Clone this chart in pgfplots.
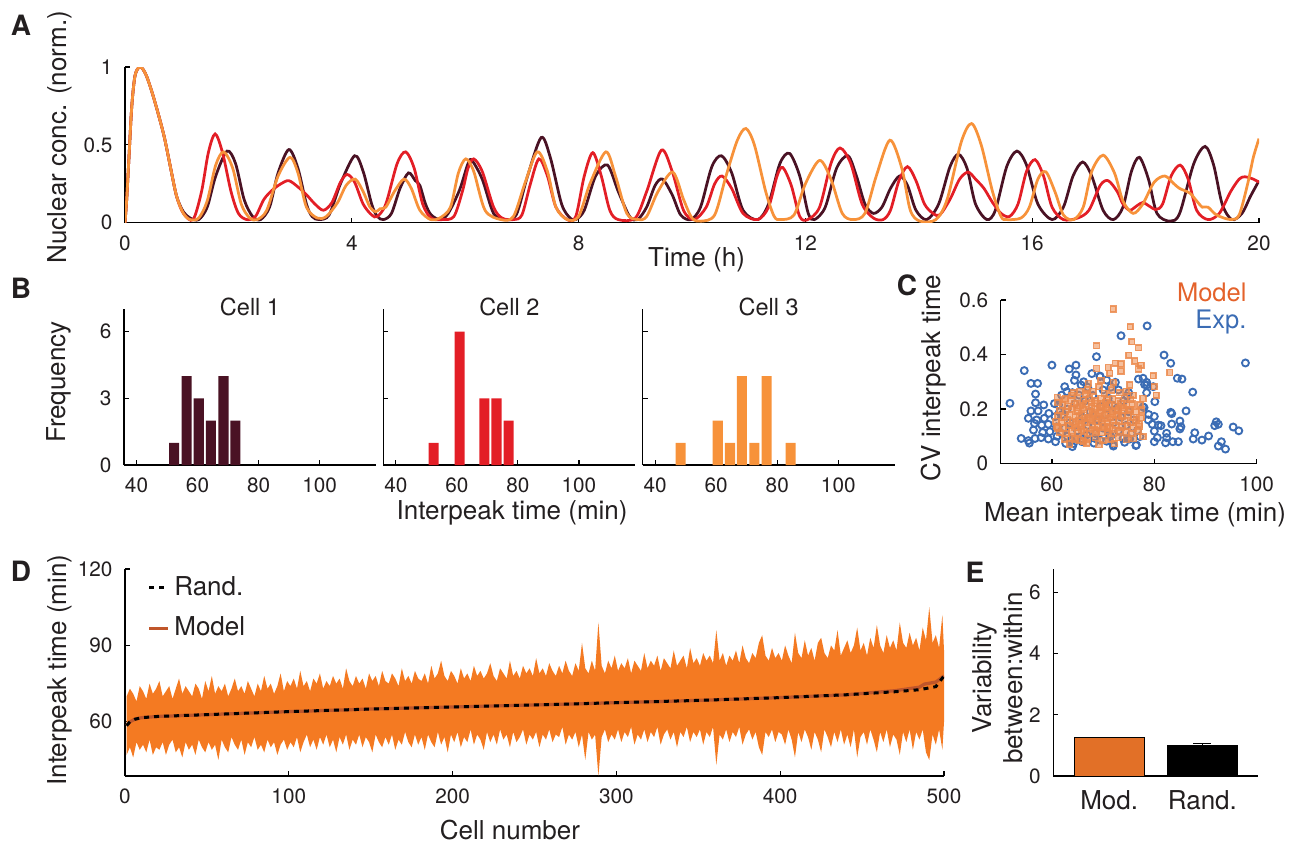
\documentclass[border=0pt]{standalone}
\usepackage{fontspec}
\setmainfont{TeX Gyre Heros}
\usepackage{pgfplots}
\usepackage{pgfplotstable}
\pgfplotsset{compat=1.18}
\usepgfplotslibrary{fillbetween}

\definecolor{txt}{HTML}{231F20}
\definecolor{cDark}{HTML}{4A1224}
\definecolor{cRed}{HTML}{E31E26}
\definecolor{cOra}{HTML}{F7923A}
\definecolor{cBlue}{HTML}{3B6CB4}
\definecolor{cMod}{HTML}{EC8A4C}
\definecolor{cModTxt}{HTML}{E4622B}
\definecolor{cBand}{HTML}{F47A22}
\definecolor{cBrown}{HTML}{C0562A}
\definecolor{cBar}{HTML}{E27027}

\newcommand{\tickfont}{\fontsize{8.3}{9}\selectfont}
\newcommand{\labfont}{\fontsize{10.4}{12.4}\selectfont}

% D: envelope of interpeak times per cell (upper / lower)
\pgfplotstableread{
c up lo
1 70 47
3 73 50
5 71 46
7 68 52
9 74 49
11 72 51
13 69 48
15 75 53
17 71 47
19 73 50
21 76 49
23 70 52
25 72 47
27 74 51
29 69 53
31 73 48
33 77 50
35 71 46
37 74 52
39 72 49
41 70 51
43 75 47
45 73 53
47 69 50
49 76 48
51 72 52
53 78 49
55 71 51
57 74 45
59 72 53
61 75 50
63 70 48
65 73 54
67 77 51
69 72 49
71 74 53
73 71 47
75 76 52
77 73 50
79 70 54
81 75 49
83 72 51
85 78 48
87 73 53
89 75 50
91 71 52
93 74 47
95 79 51
97 72 53
99 76 49
101 74 52
103 77 50
105 73 54
107 80 48
109 74 52
111 76 55
113 72 50
115 77 53
117 75 49
119 79 54
121 73 51
123 76 55
125 74 50
127 78 53
129 75 48
131 77 54
133 73 51
135 81 55
137 76 49
139 74 53
141 78 51
143 75 55
145 77 50
147 73 54
149 79 52
151 76 48
153 78 55
155 74 52
157 80 50
159 76 54
161 75 51
163 79 55
165 77 49
167 74 53
169 81 51
171 76 56
173 78 52
175 75 50
177 80 55
179 77 51
181 76 54
183 79 49
185 75 55
187 82 52
189 77 50
191 79 56
193 84 51
195 78 54
197 76 48
199 80 55
201 78 52
203 75 56
205 81 50
207 77 54
209 79 52
211 76 57
213 82 51
215 78 55
217 80 53
219 77 49
221 79 56
223 83 52
225 78 55
227 76 51
229 81 57
231 79 53
233 77 55
235 84 50
237 78 56
239 80 52
241 77 54
243 82 57
245 79 51
247 81 55
249 78 53
251 85 56
253 79 50
255 81 55
257 78 53
259 83 57
261 80 52
263 78 55
265 82 54
267 79 58
269 84 51
271 80 55
273 78 53
275 83 56
277 80 50
279 91 55
281 81 45
283 79 56
285 84 53
287 80 55
289 99 38.7
291 82 54
293 79 57
295 84 52
297 81 55
299 86 53
301 80 57
303 83 52
305 81 56
307 85 54
309 79 58
311 84 51
313 82 55
315 80 53
317 87 57
319 81 52
321 84 56
323 82 54
325 86 58
327 80 51
329 85 55
331 83 57
333 81 53
335 88 56
337 82 50
339 84 56
341 86 54
343 81 58
345 89 52
347 83 56
349 85 54
351 82 57
353 87 51
355 84 56
357 86 54
359 83 58
361 96 43
363 84 55
365 87 53
367 82 57
369 86 52
371 84 56
373 88 54
375 83 58
377 90 51
379 85 55
381 83 57
383 87 53
385 85 56
387 91 50
389 94 47
391 86 56
393 84 54
395 89 57
397 85 52
399 87 56
401 84 55
403 90 51
405 86 57
407 83 53
409 95 46
411 87 56
413 85 52
415 92 57
417 86 54
419 89 49
421 84 56
423 91 53
425 93 48
427 87 57
429 85 54
431 90 50
433 88 56
435 96 52
437 86 57
439 89 51
441 92 55
443 87 50
445 90 57
447 97 46
449 88 54
451 91 56
453 86 51
455 93 57
457 89 53
459 98 48
461 90 56
463 87 52
465 94 57
467 89 50
469 92 55
471 88 53
473 99 47
475 91 56
477 89 52
479 95 57
481 90 49
483 93 56
485 88 53
487 97 57
489 92 48
491 105 45
493 91 55
495 94 51
497 89 57
499 102 49
500 88 60
}\bandD

\pgfplotsset{
  fig/.style={
    scale only axis, axis lines*=left,
    axis line style={line width=0.5pt, black},
    tick align=inside, major tick length=2pt,
    tick style={line width=0.5pt, black},
    ticklabel style={font=\tickfont, text=txt},
    xticklabel style={yshift=-1.6pt},
    yticklabel style={xshift=-1.5pt},
    label style={font=\labfont, text=txt, anchor=center},
    /pgf/number format/assume math mode=true,
  },
  hist/.style={fig, width=100.8pt, height=62.28pt,
    xmin=35.9, xmax=118.5, ymin=0, ymax=7,
    xtick={40,60,80,100}, ytick={0,3,6},
    title style={at={(axis description cs:0.5,0.918)}, anchor=center,
      font=\fontsize{9.4}{11}\selectfont, text=txt}},
}

\begin{document}
\begin{tikzpicture}
\path (0pt,0pt) rectangle (520.8pt,-338pt);

% ---------- A: time courses
\begin{axis}[fig, at={(50pt,-89.08pt)}, anchor=south west,
  width=453.6pt, height=62.28pt,
  xmin=0, xmax=20, ymin=0, ymax=1,
  xtick={0,4,...,20}, ytick={0,0.5,1},
  xlabel={Time (h)}, ylabel={Nuclear conc. (norm.)},
  xlabel style={at={(axis description cs:0.504,-0.24)}},
  ylabel style={at={(axis description cs:-0.0573,0.55)}}]
\addplot[cDark, line width=1.1pt, smooth] coordinates {
 (0,0)(0.03,0.15)(0.07,0.42)(0.12,0.75)(0.18,0.95)(0.27,1)(0.37,0.95)(0.5,0.81)
 (0.68,0.57)(0.8,0.36)(0.91,0.17)(1.03,0.07)(1.15,0.03)(1.3,0.02)(1.45,0.1)(1.6,0.3)
 (1.8,0.46)(1.95,0.38)(2.1,0.15)(2.25,0.04)(2.39,0.02)(2.55,0.1)(2.7,0.32)(2.89,0.47)
 (3.05,0.35)(3.2,0.12)(3.3,0.04)(3.42,0.02)(3.6,0.05)(3.8,0.25)(4.05,0.43)(4.2,0.33)
 (4.35,0.12)(4.45,0.04)(4.56,0.02)(4.7,0.06)(4.85,0.22)(5.0,0.32)(5.12,0.27)(5.2,0.24)
 (5.3,0.12)(5.4,0.05)(5.56,0.02)(5.7,0.06)(5.9,0.21)(6.05,0.38)(6.12,0.40)(6.3,0.28)
 (6.5,0.06)(6.7,0.02)(6.9,0.05)(7.1,0.3)(7.34,0.547)(7.5,0.42)(7.7,0.12)(7.85,0.03)
 (7.95,0.02)(8.1,0.08)(8.3,0.3)(8.51,0.37)(8.7,0.2)(8.9,0.04)(9.04,0.02)(9.2,0.1)
 (9.35,0.24)(9.48,0.28)(9.65,0.18)(9.8,0.05)(9.98,0.02)(10.15,0.1)(10.35,0.36)(10.52,0.43)
 (10.7,0.32)(10.9,0.08)(11.16,0.02)(11.35,0.12)(11.55,0.38)(11.72,0.445)(11.9,0.3)(12.05,0.06)
 (12.16,0.02)(12.35,0.1)(12.55,0.35)(12.75,0.43)(12.9,0.3)(13.05,0.12)(13.2,0.06)(13.35,0.1)
 (13.5,0.22)(13.66,0.30)(13.8,0.24)(13.95,0.08)(14.14,0.02)(14.35,0.12)(14.55,0.36)(14.7,0.44)
 (14.85,0.35)(15.0,0.12)(15.2,0.02)(15.35,0.08)(15.55,0.36)(15.73,0.46)(15.9,0.37)(16.1,0.12)
 (16.35,0.02)(16.55,0.1)(16.72,0.3)(16.89,0.39)(17.05,0.3)(17.25,0.08)(17.43,0.02)(17.6,0.1)
 (17.75,0.33)(17.89,0.42)(18.05,0.28)(18.2,0.06)(18.43,0.01)(18.6,0.06)(18.85,0.38)(19.05,0.49)
 (19.2,0.37)(19.35,0.12)(19.52,0.02)(19.7,0.06)(19.85,0.17)(20,0.27)};
\addplot[cRed, line width=1.1pt, smooth] coordinates {
 (0,0)(0.03,0.15)(0.07,0.42)(0.12,0.75)(0.18,0.95)(0.27,1)(0.37,0.95)(0.5,0.81)
 (0.68,0.57)(0.8,0.36)(0.91,0.17)(1.03,0.06)(1.2,0.02)(1.35,0.2)(1.47,0.45)(1.59,0.57)
 (1.72,0.45)(1.87,0.2)(2.0,0.06)(2.15,0.02)(2.3,0.04)(2.45,0.15)(2.6,0.21)(2.75,0.25)
 (2.89,0.27)(3.05,0.23)(3.2,0.18)(3.35,0.12)(3.5,0.08)(3.65,0.13)(3.8,0.26)(3.92,0.31)
 (4.05,0.26)(4.2,0.12)(4.35,0.05)(4.45,0.04)(4.6,0.12)(4.8,0.38)(4.95,0.455)(5.1,0.35)
 (5.25,0.12)(5.4,0.03)(5.6,0.02)(5.8,0.04)(5.95,0.2)(6.05,0.35)(6.15,0.41)(6.3,0.33)
 (6.5,0.1)(6.65,0.03)(6.85,0.02)(7.0,0.05)(7.15,0.25)(7.3,0.41)(7.45,0.3)(7.6,0.1)
 (7.8,0.02)(7.95,0.04)(8.1,0.3)(8.25,0.45)(8.4,0.3)(8.55,0.08)(8.7,0.02)(9.0,0.03)
 (9.2,0.2)(9.46,0.466)(9.65,0.33)(9.85,0.08)(10.04,0.02)(10.25,0.1)(10.4,0.25)(10.53,0.30)
 (10.7,0.22)(10.9,0.06)(11.16,0.02)(11.35,0.1)(11.5,0.3)(11.6,0.355)(11.75,0.24)(11.9,0.04)
 (12.04,0.02)(12.25,0.1)(12.45,0.38)(12.61,0.48)(12.8,0.38)(13.0,0.12)(13.2,0.03)(13.37,0.02)
 (13.5,0.08)(13.65,0.27)(13.8,0.36)(13.95,0.27)(14.1,0.12)(14.25,0.06)(14.37,0.05)(14.55,0.15)
 (14.72,0.28)(14.87,0.325)(15.0,0.28)(15.15,0.22)(15.3,0.13)(15.45,0.06)(15.6,0.04)(15.75,0.12)
 (15.9,0.33)(16.05,0.405)(16.2,0.3)(16.35,0.1)(16.55,0.02)(16.8,0.03)(17.0,0.08)(17.2,0.24)
 (17.34,0.27)(17.5,0.2)(17.6,0.12)(17.72,0.08)(17.85,0.11)(17.95,0.13)(18.05,0.11)(18.18,0.085)
 (18.3,0.12)(18.45,0.3)(18.61,0.37)(18.75,0.28)(18.9,0.08)(19.1,0.02)(19.3,0.06)(19.5,0.2)
 (19.65,0.28)(19.75,0.295)(19.9,0.28)(20,0.26)};
\addplot[cOra, line width=1.1pt, smooth] coordinates {
 (0,0)(0.03,0.15)(0.07,0.42)(0.12,0.75)(0.18,0.95)(0.27,1)(0.37,0.95)(0.5,0.81)
 (0.68,0.57)(0.8,0.36)(0.91,0.17)(1.03,0.06)(1.15,0.02)(1.3,0.03)(1.45,0.14)(1.6,0.37)
 (1.74,0.455)(1.9,0.35)(2.05,0.12)(2.2,0.03)(2.33,0.02)(2.5,0.08)(2.7,0.3)(2.91,0.42)
 (3.05,0.32)(3.2,0.1)(3.39,0.03)(3.55,0.04)(3.75,0.13)(3.9,0.24)(4.06,0.28)(4.2,0.2)
 (4.32,0.1)(4.42,0.07)(4.5,0.09)(4.6,0.1)(4.75,0.2)(4.92,0.28)(5.05,0.22)(5.2,0.08)
 (5.39,0.02)(5.55,0.03)(5.74,0.1)(5.88,0.32)(6.01,0.41)(6.15,0.33)(6.35,0.08)(6.63,0.02)
 (6.85,0.04)(7.05,0.25)(7.27,0.455)(7.45,0.33)(7.6,0.1)(7.8,0.02)(8.0,0.04)(8.2,0.25)
 (8.48,0.455)(8.65,0.3)(8.85,0.06)(9.04,0.02)(9.2,0.04)(9.4,0.2)(9.66,0.325)(9.85,0.15)
 (10.0,0.03)(10.16,0.01)(10.4,0.05)(10.6,0.3)(10.8,0.53)(10.95,0.605)(11.1,0.5)(11.3,0.2)
 (11.45,0.04)(11.57,0.02)(11.8,0.05)(12.0,0.25)(12.25,0.40)(12.45,0.28)(12.65,0.06)(12.84,0.02)
 (13.05,0.06)(13.25,0.3)(13.49,0.53)(13.7,0.35)(13.85,0.08)(14.02,0.01)(14.3,0.02)(14.5,0.15)
 (14.75,0.52)(14.93,0.637)(15.1,0.5)(15.3,0.2)(15.45,0.04)(15.55,0.02)(15.8,0.03)(15.95,0.1)
 (16.1,0.28)(16.24,0.327)(16.4,0.2)(16.55,0.05)(16.73,0.02)(16.9,0.1)(17.05,0.33)(17.25,0.434)
 (17.45,0.32)(17.6,0.14)(17.78,0.06)(17.95,0.12)(18.15,0.26)(18.34,0.30)(18.5,0.25)(18.6,0.22)
 (18.78,0.19)(18.9,0.14)(19.0,0.10)(19.1,0.10)(19.25,0.05)(19.5,0.02)(19.65,0.05)(19.8,0.25)
 (19.9,0.42)(20,0.54)};
\end{axis}

% ---------- B: histograms
\begin{axis}[hist, at={(49.6pt,-186pt)}, anchor=south west,
  title={Cell 1}, ylabel={Frequency},
  ylabel style={at={(axis description cs:-0.258,0.533)}}]
\addplot[ybar, bar width=3.3, bar shift=0pt, fill=cDark, draw=none]
  coordinates {(52.3,1)(56.4,4)(60.4,3)(64.4,2)(68.5,4)(72.4,2)};
\end{axis}
\begin{axis}[hist, at={(153.32pt,-186pt)}, anchor=south west,
  title={Cell 2}, yticklabels={}, xlabel={Interpeak time (min)},
  xlabel style={at={(axis description cs:0.511,-0.308)}}]
\addplot[ybar, bar width=3.3, bar shift=0pt, fill=cRed, draw=none]
  coordinates {(52.4,1)(60.9,6)(69.0,3)(73.0,3)(77.0,2)};
\end{axis}
\begin{axis}[hist, at={(257.08pt,-186pt)}, anchor=south west,
  title={Cell 3}, yticklabels={}]
\addplot[ybar, bar width=3.3, bar shift=0pt, fill=cOra, draw=none]
  coordinates {(48.3,1)(60.5,2)(64.5,1)(68.4,4)(72.5,1)(76.5,4)(84.4,1)};
\end{axis}

% ---------- C: scatter
\begin{axis}[fig, at={(400.28pt,-185.4pt)}, anchor=south west,
  width=102.4pt, height=65.4pt,
  xmin=50, xmax=100, ymin=0, ymax=0.6,
  xtick={60,80,100}, ytick={0,0.2,0.4,0.6},
  xlabel={Mean interpeak time (min)}, ylabel={CV interpeak time},
  xlabel style={at={(axis description cs:0.525,-0.315)}},
  ylabel style={at={(axis description cs:-0.264,0.523)}}]
\addplot[only marks, mark=o, mark size=1.4pt, mark options={cBlue, line width=0.75pt}]
  coordinates {
 (51.8,0.221)(54.6,0.341)(55.9,0.294)(57.2,0.294)(56.8,0.255)(56.8,0.223)(58.4,0.215)
 (55.9,0.193)(57.3,0.193)(55.4,0.166)(57.0,0.160)(58.5,0.166)(59.4,0.184)(56.6,0.147)
 (58.0,0.141)(59.3,0.144)(56.4,0.123)(58.2,0.114)(59.6,0.117)(54.0,0.092)(55.4,0.084)
 (55.6,0.075)(56.7,0.092)(57.9,0.095)(59.3,0.090)(60.7,0.080)(60.0,0.361)(63.4,0.347)
 (64.7,0.361)(64.7,0.325)(64.4,0.305)(62.5,0.282)(62.9,0.264)(61.9,0.251)(65.7,0.288)
 (65.3,0.251)(61.3,0.215)(60.6,0.172)(60.9,0.135)(61.9,0.111)(62.7,0.074)(64.0,0.062)
 (65.9,0.080)(68.4,0.092)(68.7,0.392)(69.4,0.319)(70.7,0.082)(72.0,0.064)(73.5,0.469)
 (72.4,0.298)(73.9,0.092)(71.8,0.215)(78.6,0.505)(81.9,0.398)(83.2,0.368)(97.8,0.369)
 (76.9,0.310)(78.5,0.298)(78.5,0.288)(84.5,0.313)(85.4,0.310)(78.5,0.260)(87.5,0.262)
 (80.1,0.227)(78.0,0.205)(83.2,0.188)(83.4,0.183)(86.2,0.193)(78.9,0.180)(78.8,0.160)
 (79.6,0.144)(80.8,0.141)(81.3,0.139)(85.0,0.156)(85.2,0.135)(85.0,0.127)(83.4,0.145)
 (80.0,0.119)(82.4,0.111)(82.4,0.095)(80.6,0.095)(80.0,0.080)(82.2,0.076)(83.6,0.080)
 (84.7,0.080)(87.9,0.113)(87.6,0.090)(89.3,0.086)(90.6,0.101)(92.1,0.153)(92.5,0.144)
 (91.8,0.139)(95.4,0.134)(96.5,0.120)(93.1,0.080)(93.9,0.053)(92.5,0.064)(76.4,0.066)
 (75.2,0.090)(77.2,0.099)(76.7,0.121)(70.7,0.306)(69.4,0.321)(77.8,0.313)(78.1,0.290)
 (79.8,0.282)(74.7,0.247)(77.8,0.208)(80.0,0.173)(69.4,0.086)(72.0,0.068)(74.9,0.092)
 (76.5,0.068)(64.2,0.073)
 (62.0,0.18)(63.0,0.20)(63.5,0.15)(64.5,0.22)(65.0,0.12)(66.0,0.17)(66.5,0.23)(67.0,0.14)
 (67.5,0.19)(68.0,0.25)(68.5,0.11)(69.0,0.16)(69.5,0.21)(70.0,0.13)(70.5,0.18)(71.0,0.24)
 (71.5,0.10)(72.0,0.15)(72.5,0.20)(73.0,0.12)(73.5,0.17)(74.0,0.23)(74.5,0.14)(75.0,0.19)
 (75.5,0.11)(76.0,0.16)(63.0,0.10)(64.0,0.26)(66.0,0.09)(67.0,0.28)(70.0,0.27)(73.0,0.27)
 (75.0,0.26)(62.5,0.13)(61.5,0.19)(60.5,0.22)(61.0,0.10)(63.8,0.085)(66.8,0.105)(68.2,0.075)
 (71.2,0.105)(74.2,0.078)(67.8,0.33)(66.2,0.30)(71.5,0.28)};
\addplot[only marks, mark=square*, mark size=1.15pt,
  mark options={draw=cMod, fill=cMod, line width=0.6pt,
    draw opacity=0.85, fill opacity=0.55}]
  coordinates {
 (72.0,0.567)(68.7,0.432)(72.4,0.368)(73.5,0.365)(71.0,0.352)(73.5,0.339)(71.3,0.331)
 (68.7,0.349)(69.6,0.306)(67.1,0.294)(72.0,0.298)(69.2,0.282)(75.3,0.502)(75.0,0.397)
 (61.1,0.242)(61.2,0.224)(62.6,0.239)(63.9,0.251)(65.5,0.264)(64.5,0.090)(66.1,0.080)
 (61.2,0.129)(75.6,0.447)(76.9,0.425)(76.2,0.376)(77.4,0.361)(76.9,0.347)(79.8,0.322)
 (83.0,0.334)(75.2,0.288)(80.0,0.282)(80.4,0.251)(75.9,0.251)(77.2,0.215)(77.5,0.196)
 (77.4,0.168)(77.0,0.144)(77.8,0.098)(75.0,0.196)(77.8,0.239)
 (62.5,0.09)(64.0,0.095)(65.5,0.085)(67.0,0.09)(68.5,0.095)(70.0,0.085)(71.5,0.09)(73.0,0.095)
 (74.5,0.088)(76.0,0.092)
 (61.5,0.115)(62.8,0.11)(63.9,0.12)(65.1,0.112)(66.3,0.118)(67.4,0.11)(68.6,0.12)(69.8,0.113)
 (70.9,0.118)(72.1,0.11)(73.3,0.12)(74.4,0.115)(75.6,0.11)(76.8,0.118)
 (61.0,0.135)(62.2,0.13)(63.3,0.14)(64.5,0.132)(65.6,0.138)(66.8,0.13)(67.9,0.14)(69.0,0.133)
 (70.2,0.137)(71.3,0.13)(72.5,0.14)(73.6,0.134)(74.8,0.138)(75.9,0.13)(77.1,0.136)
 (60.8,0.155)(61.9,0.15)(63.0,0.16)(64.1,0.152)(65.2,0.158)(66.4,0.15)(67.5,0.16)(68.6,0.153)
 (69.7,0.157)(70.8,0.15)(72.0,0.16)(73.1,0.154)(74.2,0.158)(75.3,0.15)(76.5,0.16)
 (61.2,0.175)(62.4,0.17)(63.5,0.18)(64.6,0.172)(65.8,0.178)(66.9,0.17)(68.0,0.18)(69.2,0.173)
 (70.3,0.177)(71.4,0.17)(72.6,0.18)(73.7,0.174)(74.9,0.178)(76.0,0.17)
 (61.6,0.195)(62.7,0.19)(63.9,0.20)(65.0,0.192)(66.2,0.198)(67.3,0.19)(68.4,0.20)(69.6,0.193)
 (70.7,0.197)(71.8,0.19)(73.0,0.20)(74.1,0.194)(75.3,0.198)(76.4,0.19)
 (62.0,0.215)(63.2,0.21)(64.4,0.22)(65.5,0.212)(66.6,0.218)(67.8,0.21)(68.9,0.22)(70.0,0.213)
 (71.2,0.217)(72.3,0.21)(73.5,0.22)(74.6,0.214)(75.7,0.218)
 (62.5,0.235)(63.8,0.23)(65.0,0.24)(66.1,0.232)(67.3,0.238)(68.4,0.23)(69.6,0.24)(70.7,0.233)
 (71.9,0.237)(73.0,0.23)(74.2,0.24)(75.4,0.234)
 (64.2,0.26)(66.5,0.255)(68.0,0.265)(70.2,0.258)(71.7,0.27)(73.2,0.26)(74.5,0.265)(66.9,0.27)
 (63.5,0.072)(66.8,0.075)(69.2,0.07)(72.2,0.073)
 (64.7,0.145)(67.2,0.165)(69.9,0.145)(71.9,0.125)(66.0,0.205)(69.3,0.185)(72.9,0.175)
 (70.5,0.205)(65.4,0.175)(68.2,0.125)
 (65.8,0.145)(68.9,0.165)(71.0,0.185)(73.9,0.205)(64.9,0.205)(67.9,0.185)(70.6,0.165)
 (66.4,0.165)(69.4,0.205)(72.4,0.195)(67.7,0.225)(70.4,0.225)(65.8,0.125)(70.8,0.135)};
\end{axis}

% ---------- D: sorted interpeak times
\begin{axis}[fig, at={(50pt,-310.4pt)}, anchor=south west,
  width=327.6pt, height=82.8pt,
  xmin=0, xmax=500, ymin=38.7, ymax=120,
  xtick={0,100,...,500}, ytick={60,90,120},
  xlabel={Cell number}, ylabel={Interpeak time (min)},
  xlabel style={at={(axis description cs:0.47,-0.261)}},
  ylabel style={at={(axis description cs:-0.079,0.512)}},
  legend style={draw=none, fill=none, at={(axis description cs:0.027,0.99)},
    anchor=north west, font=\fontsize{10.4}{11}\selectfont, text=txt,
    row sep=3pt, inner sep=0pt},
  legend cell align=left,
  legend image code/.code={\draw[#1] (0pt,0pt) -- (7.5pt,0pt);}]
\addplot[name path=up, draw=none, forget plot] table[x=c, y=up] {\bandD};
\addplot[name path=lo, draw=none, forget plot] table[x=c, y=lo] {\bandD};
\addplot[cBand, forget plot] fill between[of=up and lo];
\addplot[cBrown, line width=1.3pt, forget plot] coordinates {
 (1,58.5)(3,60)(6,61)(10,61.6)(20,62.1)(50,62.8)(100,64.0)(150,65.0)(200,65.8)(250,66.6)
 (300,67.5)(350,68.4)(400,69.5)(440,70.6)(470,72.2)(485,73.6)(488,74.8)(495,75.6)(500,78)};
\addplot[black, line width=1.2pt, dash pattern=on 2pt off 2pt] coordinates {
 (1,58.5)(3,60)(6,61)(10,61.6)(20,62.1)(50,62.8)(100,64.0)(150,65.0)(200,65.8)(250,66.6)
 (300,67.5)(350,68.4)(400,69.5)(440,70.6)(470,71.8)(485,72.6)(495,73.8)(500,78)};
\addlegendentry{Rand.}
\addlegendimage{cBrown, line width=1.2pt}
\addlegendentry{Model}
\end{axis}

% ---------- E: variability ratio
\begin{axis}[fig, at={(421.32pt,-310.4pt)}, anchor=south west,
  width=82pt, height=82.68pt,
  xmin=-0.6, xmax=1.6, ymin=0, ymax=6.75,
  xtick={0,1}, xticklabels={Mod.,Rand.}, ytick={0,2,4,6},
  xtick style={draw=none},
  xticklabel style={font=\labfont, yshift=-0.5pt},
  ylabel={Variability\\between:within},
  ylabel style={align=center, at={(axis description cs:-0.27,0.474)}}]
\addplot[ybar, bar width=0.75, bar shift=0pt, fill=cBar, draw=black, line width=0.4pt]
  coordinates {(0,1.25)};
\addplot[ybar, bar width=0.75, bar shift=0pt, fill=black, draw=black,
  error bars/.cd, y dir=plus, y explicit,
  error bar style={line width=0.5pt, black},
  error mark options={rotate=90, mark size=3.6pt, line width=0.5pt, black}]
  coordinates {(1,0.99) +- (0,0.07)};
\end{axis}

% ---------- panel letters and free text
\begin{scope}[x=0.4pt, y=-0.4pt]
\tikzset{pl/.style={font=\bfseries\fontsize{11.2}{12}\selectfont, text=txt}}
\node[pl] at (21,25) {A};
\node[pl] at (21,288) {B};
\node[pl] at (907,285) {C};
\node[pl] at (21,571) {D};
\node[pl] at (975,572) {E};
\node[anchor=east, font=\fontsize{10.2}{11}\selectfont, text=cModTxt, inner sep=0pt] at (1247,292) {Model};
\node[anchor=east, font=\fontsize{10.2}{11}\selectfont, text=cBlue, inner sep=0pt] at (1247,322) {Exp.};
\end{scope}
\end{tikzpicture}
\end{document}
